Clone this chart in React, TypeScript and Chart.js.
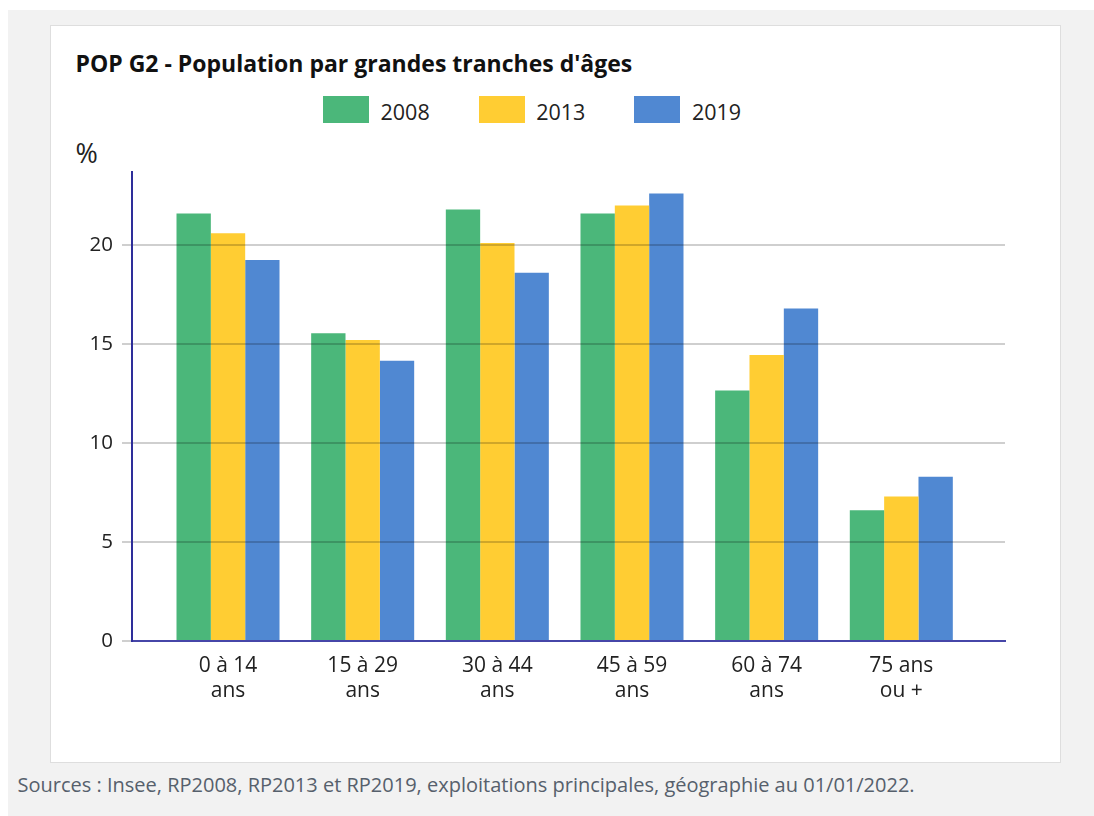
import React, { useEffect, useRef } from 'react';
import { Chart, registerables } from 'chart.js';

Chart.register(...registerables);

// ---- Data ----
const categories: string[][] = [
  ['0 à 14', 'ans'],
  ['15 à 29', 'ans'],
  ['30 à 44', 'ans'],
  ['45 à 59', 'ans'],
  ['60 à 74', 'ans'],
  ['75 ans', 'ou +'],
];
const seriesNames: string[] = ['2008', '2013', '2019'];
const values2008: number[] = [21.6, 15.55, 21.8, 21.6, 12.65, 6.6];
const values2013: number[] = [20.6, 15.2, 20.1, 22.0, 14.45, 7.3];
const values2019: number[] = [19.25, 14.15, 18.6, 22.6, 16.8, 8.3];
const yTicks: number[] = [0, 5, 10, 15, 20];
const seriesColors: string[] = ['#4bb77a', '#ffcd33', '#5088d2'];

const titleText = "POP G2 - Population par grandes tranches d'âges";
const unitText = '%';
const sourceText =
  'Sources : Insee, RP2008, RP2013 et RP2019, exploitations principales, géographie au 01/01/2022.';

const FONT = "'Open Sans', sans-serif";

export default function App() {
  const canvasRef = useRef<HTMLCanvasElement>(null);

  useEffect(() => {
    if (!canvasRef.current) return;
    Chart.defaults.font.family = FONT;
    const allValues = [values2008, values2013, values2019];
    const chart = new Chart(canvasRef.current, {
      type: 'bar',
      data: {
        datasets: seriesNames.map((name, s) => ({
          label: name,
          data: allValues[s].map((v, i) => ({ x: i, y: v })),
          backgroundColor: seriesColors[s],
          borderWidth: 0,
          categoryPercentage: 0.765,
          barPercentage: 1,
        })),
      },
      options: {
        animation: false,
        responsive: true,
        maintainAspectRatio: false,
        layout: { padding: { top: 42, right: 55, bottom: 0, left: 0 } },
        plugins: {
          legend: { display: false },
          tooltip: { enabled: false },
          title: { display: false },
        },
        scales: {
          x: {
            type: 'linear',
            min: -0.713,
            max: 5.77,
            offset: false,
            afterBuildTicks: (scale: any) => {
              scale.ticks = categories.map((_, i) => ({ value: i }));
            },
            afterFit: (scale: any) => {
              scale.height = 89;
            },
            grid: { display: false, drawTicks: false, offset: false },
            border: { display: true, color: '#4646a8', width: 2, z: 2 },
            ticks: {
              autoSkip: false,
              maxRotation: 0,
              minRotation: 0,
              padding: 13,
              color: '#222222',
              font: { size: 21, lineHeight: 25 / 21 },
              callback: (value: any) => categories[Math.round(Number(value))] ?? '',
            },
          },
          y: {
            min: 0,
            max: 23.69,
            afterBuildTicks: (scale: any) => {
              scale.ticks = yTicks.map((v) => ({ value: v }));
            },
            afterFit: (scale: any) => {
              scale.width = 82;
            },
            grid: {
              color: 'rgba(0,0,0,0.19)',
              lineWidth: 2,
              z: 1,
              drawTicks: true,
              tickLength: 10,
            },
            border: { display: true, color: '#2e2e9a', width: 2, z: 2 },
            ticks: {
              padding: 9,
              color: '#222222',
              font: { size: 20.5 },
              callback: (value: any) => String(value),
            },
          },
        },
      } as any,
    });
    return () => chart.destroy();
  }, []);

  return (
    <div
      style={{
        position: 'fixed',
        left: 8,
        top: 10,
        width: 1086,
        height: 806,
        background: '#f2f2f2',
        overflow: 'hidden',
        fontFamily: FONT,
      }}
    >
      <div
        style={{
          position: 'absolute',
          left: 42,
          top: 15,
          width: 1009,
          height: 736,
          background: '#ffffff',
          border: '1px solid #dedede',
        }}
      />
      <div
        style={{
          position: 'absolute',
          left: 67.5,
          top: 42,
          fontSize: 23,
          lineHeight: '23px',
          fontWeight: 700,
          color: '#111111',
          whiteSpace: 'nowrap',
        }}
      >
        {titleText}
      </div>
      <div
        style={{
          position: 'absolute',
          left: 315,
          top: 86,
          display: 'flex',
          gap: 49,
        }}
      >
        {seriesNames.map((name, s) => (
          <div key={name} style={{ display: 'flex', alignItems: 'center' }}>
            <div style={{ width: 46, height: 27, background: seriesColors[s] }} />
            <span
              style={{
                marginLeft: 11.5,
                fontSize: 21.5,
                lineHeight: '27px',
                color: '#222222',
                position: 'relative',
                top: 1.5,
              }}
            >
              {name}
            </span>
          </div>
        ))}
      </div>
      <div
        style={{
          position: 'absolute',
          left: 67.6,
          top: 129,
          fontSize: 27,
          lineHeight: '27px',
          color: '#222222',
        }}
      >
        {unitText}
      </div>
      <div
        style={{
          position: 'absolute',
          left: 42,
          top: 120,
          width: 1010,
          height: 600,
        }}
      >
        <canvas ref={canvasRef} />
      </div>
      <div
        style={{
          position: 'absolute',
          left: 9.5,
          top: 765,
          fontSize: 20,
          lineHeight: '20px',
          color: '#56606c',
          whiteSpace: 'nowrap',
        }}
      >
        {sourceText}
      </div>
    </div>
  );
}
